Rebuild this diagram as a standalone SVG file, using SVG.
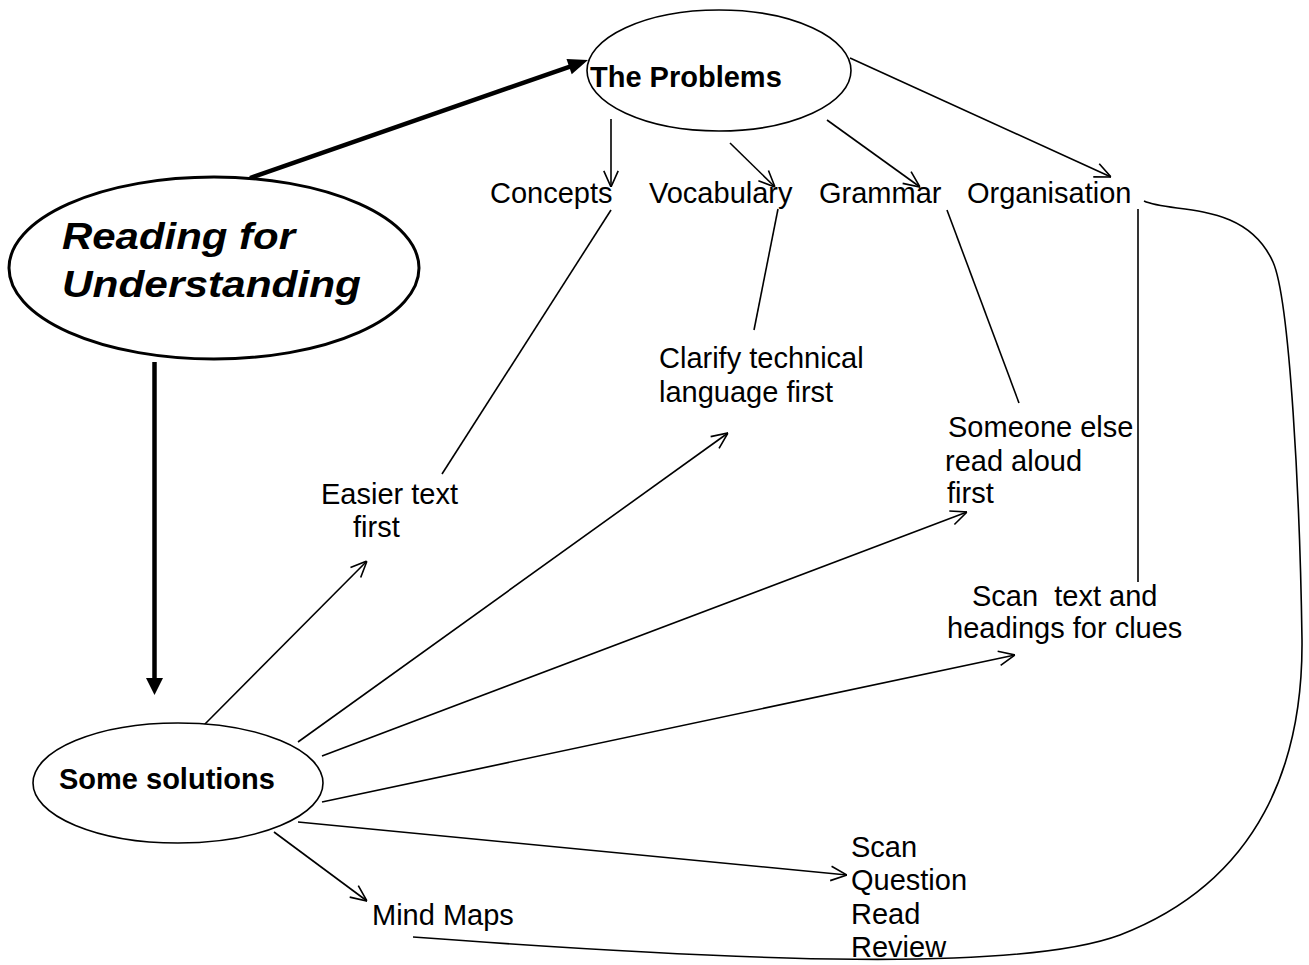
<svg xmlns="http://www.w3.org/2000/svg" width="1309" height="965" viewBox="0 0 1309 965">
<style>
.lbl{font-family:"Liberation Sans",Arial,sans-serif;font-size:29px;fill:#000}
.bold{font-weight:bold}
.title{font-family:"Liberation Sans",Arial,sans-serif;font-size:37px;font-weight:bold;font-style:italic;fill:#000}
.node{fill:#fff;stroke:#000;stroke-width:1.6}
.conn{fill:none;stroke:#000;stroke-width:1.6}
</style>
<defs>
<marker id="open" viewBox="0 0 20 20" refX="20" refY="10" markerWidth="18" markerHeight="18" markerUnits="userSpaceOnUse" orient="auto">
<path d="M2,2 L20,10 L2,18" fill="none" stroke="#000" stroke-width="1.8"/>
</marker>
</defs>
<rect width="1309" height="965" fill="#fff"/>

<g id="connectors">
<!-- thick arrows -->
<line x1="250" y1="178" x2="570" y2="66.6" stroke="#000" stroke-width="4.5"/>
<polygon points="588,60 571.7,74.2 566.5,59" fill="#000"/>
<line x1="154.5" y1="362" x2="154.5" y2="680" stroke="#000" stroke-width="4.5"/>
<polygon points="146,678 163,678 154.5,695" fill="#000"/>
<!-- problems to categories -->
<line class="conn" x1="611" y1="119" x2="611" y2="187" marker-end="url(#open)"/>
<line class="conn" x1="730" y1="143" x2="775" y2="187" marker-end="url(#open)"/>
<line class="conn" x1="827" y1="120" x2="920" y2="187" marker-end="url(#open)"/>
<line class="conn" x1="850" y1="58" x2="1111" y2="177" marker-end="url(#open)"/>
<!-- categories to solutions -->
<line class="conn" x1="611" y1="210" x2="442" y2="474"/>
<line class="conn" x1="778" y1="209" x2="754" y2="330"/>
<line class="conn" x1="947" y1="210" x2="1019" y2="403"/>
<line class="conn" x1="1138" y1="209" x2="1138" y2="582"/>
<path class="conn" d="M1144,201 C1172,214 1245,200 1273,262 C1290,300 1300,500 1302,640 C1303,760 1262,880 1120,935 C1020,972 750,962 413,937"/>
<!-- solutions arrows -->
<line class="conn" x1="203" y1="726" x2="367" y2="561" marker-end="url(#open)"/>
<line class="conn" x1="298" y1="742" x2="728" y2="433" marker-end="url(#open)"/>
<line class="conn" x1="322" y1="756" x2="967" y2="512" marker-end="url(#open)"/>
<line class="conn" x1="322" y1="802" x2="1015" y2="655" marker-end="url(#open)"/>
<line class="conn" x1="298" y1="822" x2="847" y2="875" marker-end="url(#open)"/>
<line class="conn" x1="274" y1="832" x2="367" y2="901" marker-end="url(#open)"/>
</g>

<g id="reading">
<ellipse cx="214" cy="268" rx="205" ry="91" fill="#fff" stroke="#000" stroke-width="3"/>
<text class="title" x="62" y="249" textLength="233" lengthAdjust="spacingAndGlyphs">Reading for</text>
<text class="title" x="62" y="297" textLength="299" lengthAdjust="spacingAndGlyphs">Understanding</text>
</g>

<g id="problems">
<ellipse class="node" cx="719" cy="70.5" rx="132" ry="60.5"/>
<text class="lbl bold" x="590" y="87">The Problems</text>
</g>

<g id="solutions">
<ellipse class="node" cx="178" cy="783" rx="145" ry="60"/>
<text class="lbl bold" x="59" y="789">Some solutions</text>
</g>

<g id="concepts"><text class="lbl" x="490" y="203">Concepts</text></g>
<g id="vocabulary"><text class="lbl" x="649" y="203">Vocabulary</text></g>
<g id="grammar"><text class="lbl" x="819" y="203">Grammar</text></g>
<g id="organisation"><text class="lbl" x="967" y="203">Organisation</text></g>

<g id="easier"><text class="lbl" x="321" y="504">Easier text</text><text class="lbl" x="353" y="537">first</text></g>
<g id="clarify"><text class="lbl" x="659" y="368">Clarify technical</text><text class="lbl" x="659" y="402">language first</text></g>
<g id="someone"><text class="lbl" x="948" y="437">Someone else</text><text class="lbl" x="945" y="471">read aloud</text><text class="lbl" x="947" y="503">first</text></g>
<g id="scantext"><text class="lbl" x="972" y="606" xml:space="preserve">Scan  text and</text><text class="lbl" x="947" y="638">headings for clues</text></g>
<g id="sqrr"><text class="lbl" x="851" y="857">Scan</text><text class="lbl" x="851" y="890">Question</text><text class="lbl" x="851" y="924">Read</text><text class="lbl" x="851" y="957">Review</text></g>
<g id="mindmaps"><text class="lbl" x="372" y="925">Mind Maps</text></g>
</svg>
